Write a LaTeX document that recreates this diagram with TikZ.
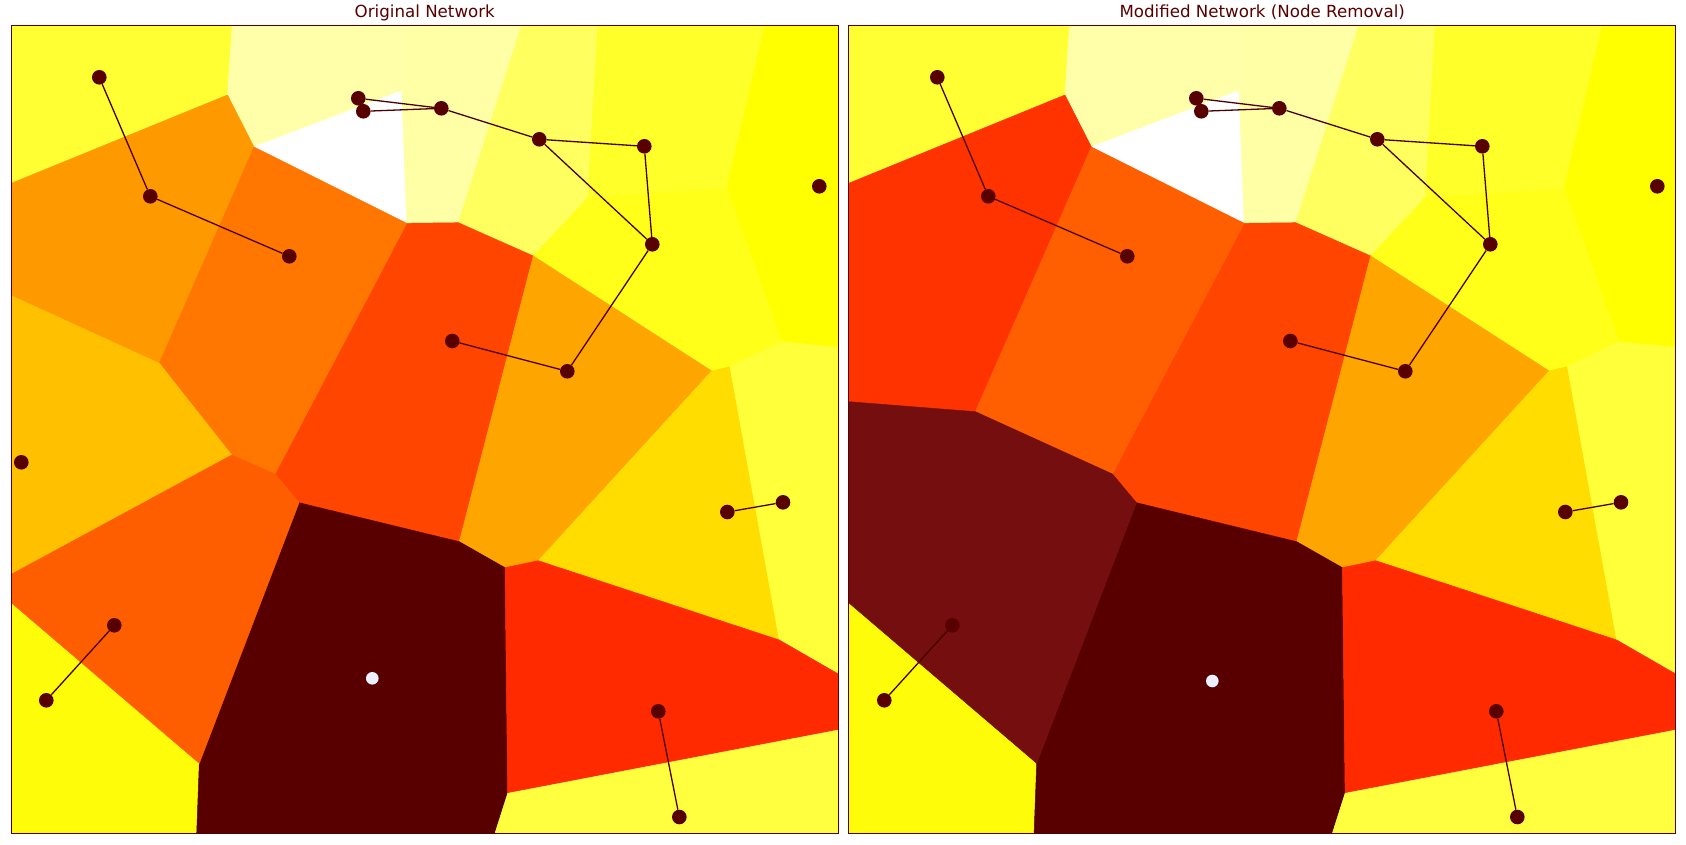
\documentclass[tikz,border=0pt]{standalone}
\usepackage{fontspec}
\setmainfont{DejaVu Sans}
\definecolor{cA}{HTML}{FFFF33}
\definecolor{cB}{HTML}{FF9900}
\definecolor{cC}{HTML}{FF7700}
\definecolor{cD}{HTML}{FFFFAA}
\definecolor{cE}{HTML}{FFFFFF}
\definecolor{cF}{HTML}{FFFFA6}
\definecolor{cG}{HTML}{FFFF60}
\definecolor{cH}{HTML}{FFFF2A}
\definecolor{cI}{HTML}{FFFF1A}
\definecolor{cJ}{HTML}{FFFF00}
\definecolor{cK}{HTML}{FF4500}
\definecolor{cL}{HTML}{FFA500}
\definecolor{cM}{HTML}{FFC000}
\definecolor{cN}{HTML}{FF5E00}
\definecolor{cO}{HTML}{FFFC0A}
\definecolor{cP}{HTML}{580000}
\definecolor{cQ}{HTML}{FFDD00}
\definecolor{cR}{HTML}{FFFF3A}
\definecolor{cS}{HTML}{FF2A00}
\definecolor{cT}{HTML}{FFFF40}
\definecolor{mB}{HTML}{FF3300}
\definecolor{mC}{HTML}{FF5F00}
\definecolor{mN}{HTML}{750E0E}
\definecolor{nodec}{HTML}{580000}
\definecolor{edgec}{HTML}{4A0000}
\definecolor{framec}{HTML}{580000}
\definecolor{titlec}{HTML}{580000}
\definecolor{whitenode}{HTML}{EEF0FF}
\tikzset{
  cell/.style={fill=#1, draw=#1, line width=0.5pt, line join=round},
  vtx/.style={circle, fill=nodec, draw=none, inner sep=0pt, minimum size=14.6pt},
  wvtx/.style={circle, fill=whitenode, draw=none, inner sep=0pt, minimum size=12.6pt},
  edge/.style={draw=edgec, line width=1.3pt},
  panel/.style={draw=framec, line width=1pt},
  title/.style={font=\fontsize{16.67}{20}\selectfont, text=titlec, anchor=base, inner sep=0pt}
}
\newcommand\commoncells{%
  \path[cell=cA] (11.3,25) -- (232.3,25) -- (227.5,95) -- (11.3,183.3) -- cycle;
  \path[cell=cD] (232.3,25) -- (408,25) -- (401.7,90.7) -- (254,147) -- (227.5,95) -- cycle;
  \path[cell=cE] (254,147) -- (401.7,90.7) -- (406.7,223.3) -- cycle;
  \path[cell=cF] (408,25) -- (521.7,25) -- (458.3,222.7) -- (406.7,223.3) -- (401.7,90.7) -- cycle;
  \path[cell=cG] (521.7,25) -- (597.7,25) -- (587.7,197.7) -- (533.3,256) -- (458.3,222.7) -- cycle;
  \path[cell=cH] (597.7,25) -- (765,25) -- (726.7,188.3) -- (587.7,197.7) -- cycle;
  \path[cell=cJ] (765,25) -- (838.3,25) -- (838.3,347.3) -- (781.7,341.7) -- (726.7,188.3) -- cycle;
  \path[cell=cI] (587.7,197.7) -- (726.7,188.3) -- (781.7,341.7) -- (730,366.7) -- (711.7,371) -- (533.3,256) -- cycle;
  \path[cell=cK] (406.7,223.3) -- (458.3,222.7) -- (533.3,256) -- (459.3,541.7) -- (299,502.7) -- (275,474) -- cycle;
  \path[cell=cL] (533.3,256) -- (711.7,371) -- (538.3,560.7) -- (505,567.7) -- (459.3,541.7) -- cycle;
  \path[cell=cO] (11.3,602.7) -- (199.3,763.3) -- (196.7,833.3) -- (11.3,833.3) -- cycle;
  \path[cell=cP] (299,502.7) -- (459.3,541.7) -- (505,567.7) -- (507.7,793.3) -- (495,833.3) -- (196.7,833.3) -- (199.3,763.3) -- cycle;
  \path[cell=cQ] (711.7,371) -- (730,366.7) -- (779.3,640) -- (538.3,560.7) -- cycle;
  \path[cell=cR] (781.7,341.7) -- (838.3,347.3) -- (838.3,674) -- (779.3,640) -- (730,366.7) -- cycle;
  \path[cell=cS] (505,567.7) -- (538.3,560.7) -- (779.3,640) -- (838.3,674) -- (838.3,730) -- (507.7,793.3) -- cycle;
  \path[cell=cT] (507.7,793.3) -- (838.3,730) -- (838.3,833.3) -- (495,833.3) -- cycle;
}
% #1 prefix, #2 #3 position of the white node
\newcommand\network[3]{%
  \node[vtx] (#1A) at (99.3,77.3) {};
  \node[vtx] (#1B) at (150.3,196.3) {};
  \node[vtx] (#1C) at (289.3,256.3) {};
  \node[vtx] (#1D) at (358.3,98.3) {};
  \node[vtx] (#1E) at (363.3,111.3) {};
  \node[vtx] (#1F) at (441.3,108.3) {};
  \node[vtx] (#1G) at (539.3,139.3) {};
  \node[vtx] (#1H) at (644.3,146.3) {};
  \node[vtx] (#1I) at (652.3,244.3) {};
  \node[vtx] (#1J) at (819.3,186.3) {};
  \node[vtx] (#1K) at (452.3,341) {};
  \node[vtx] (#1L) at (567.3,371.3) {};
  \node[vtx] (#1N) at (114.3,625.3) {};
  \node[vtx] (#1O) at (46.3,700.3) {};
  \node[wvtx] (#1P) at (#2,#3) {};
  \node[vtx] (#1Q) at (727.3,512) {};
  \node[vtx] (#1R) at (783,502.3) {};
  \node[vtx] (#1S) at (658.3,711.3) {};
  \node[vtx] (#1T) at (679.3,817) {};
  \draw[edge] (#1A) -- (#1B);
  \draw[edge] (#1B) -- (#1C);
  \draw[edge] (#1D) -- (#1F);
  \draw[edge] (#1E) -- (#1F);
  \draw[edge] (#1F) -- (#1G);
  \draw[edge] (#1G) -- (#1H);
  \draw[edge] (#1G) -- (#1I);
  \draw[edge] (#1H) -- (#1I);
  \draw[edge] (#1I) -- (#1L);
  \draw[edge] (#1K) -- (#1L);
  \draw[edge] (#1N) -- (#1O);
  \draw[edge] (#1Q) -- (#1R);
  \draw[edge] (#1S) -- (#1T);
}
\begin{document}
\begin{tikzpicture}[x=1pt, y=-1pt]
\useasboundingbox (0,0) rectangle (1686,844);
\fill[white] (0,0) rectangle (1686,844);
% ---------- Original network ----------
\begin{scope}
  \commoncells
  \path[cell=cB] (227.5,95) -- (254,147) -- (159.3,363.3) -- (11.3,295.7) -- (11.3,183.3) -- cycle;
  \path[cell=cC] (254,147) -- (406.7,223.3) -- (275,474) -- (231.7,455) -- (159.3,363.3) -- cycle;
  \path[cell=cM] (11.3,295.7) -- (159.3,363.3) -- (231.7,455) -- (11.3,574.3) -- cycle;
  \path[cell=cN] (11.3,574.3) -- (231.7,455) -- (275,474) -- (299,502.7) -- (199.3,763.3) -- (11.3,602.7) -- cycle;
  \network{o}{372.3}{678.3}
  \node[vtx] (oM) at (21.3,462.3) {};
  \draw[panel] (11.3,25) rectangle (838.3,833.3);
  \node[title] (t1) at (424.8,17.5) {Original Network};
\end{scope}
% ---------- Modified network ----------
\begin{scope}[xshift=837.4pt]
  \commoncells
  \path[cell=mB] (227.5,95) -- (254,147) -- (138,411.7) -- (11.3,401.7) -- (11.3,183.3) -- cycle;
  \path[cell=mC] (254,147) -- (406.7,223.3) -- (275,474) -- (138,411.7) -- cycle;
  \path[cell=mN] (11.3,401.7) -- (138,411.7) -- (275,474) -- (299,502.7) -- (199.3,763.3) -- (11.3,602.7) -- cycle;
  \begin{scope}[xshift=0.6pt]
    \network{m}{374.3}{681}
  \end{scope}
  \draw[panel] (11.3,25) rectangle (838.3,833.3);
  \node[title] (t2) at (424.8,17.5) {Modified Network (Node Removal)};
\end{scope}
\end{tikzpicture}
\end{document}
